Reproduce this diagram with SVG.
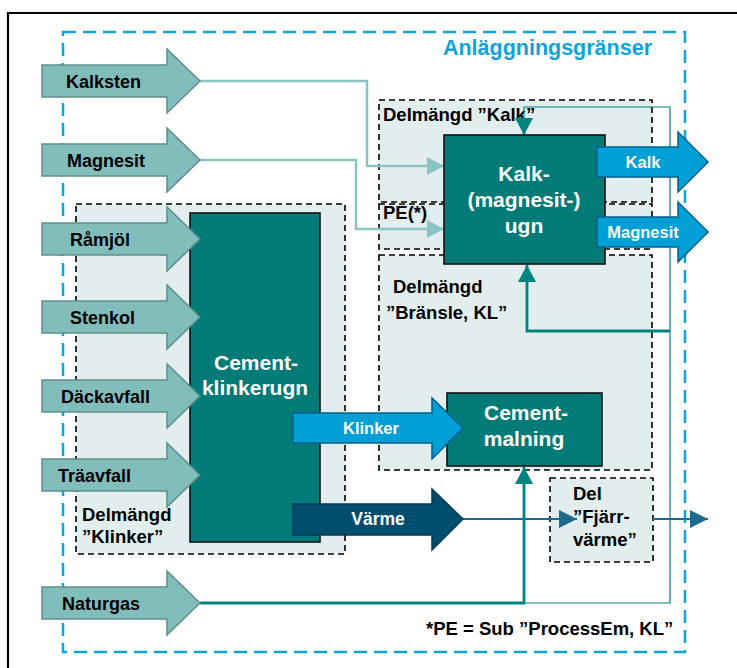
<svg xmlns="http://www.w3.org/2000/svg" width="737" height="668" viewBox="0 0 737 668">
  <style>
    .lbl { font-family: "Liberation Sans", Arial, sans-serif; font-weight: bold; }
    .blk { fill: #000; font-size: 18.5px; }
    .inl { fill: #000; font-size: 18px; }
    .wht { fill: #fff; }
    .sub { fill: #e2eeee; stroke: #000; stroke-width: 1.6; stroke-dasharray: 6 4; }
    .proc { fill: #007b78; stroke: #111; stroke-width: 1.6; }
    .inArrow { fill: #80bdbb; stroke: #5e8e8c; stroke-width: 1.5; }
    .outArrow { fill: #00a0d6; stroke: #00608c; stroke-width: 1.5; }
    .heatArrow { fill: #004e6e; stroke: #003a55; stroke-width: 1.5; }
    .feed { fill: none; stroke: #8cc4c3; stroke-width: 2.5; }
    .fuel { fill: none; stroke: #008480; stroke-width: 2.8; }
    .fuelThin { fill: none; stroke: #008480; stroke-width: 1.2; }
    .heat { fill: none; stroke: #1d6a8c; stroke-width: 2.2; }
  </style>
  <defs>
    <path id="inShape" d="M42,-16 H167 V-32 L200,0 L167,32 V16 H42 Z"/>
    <path id="outShape" d="M597,-15 H678 V-30 L708,0 L678,30 V15 H597 Z"/>
    <marker id="mFeed" markerUnits="userSpaceOnUse" markerWidth="18" markerHeight="20" refX="17" refY="9" orient="auto">
      <path d="M0,0 L17,9 L0,18 Z" fill="#8cc4c3"/>
    </marker>
    <marker id="mFuel" markerUnits="userSpaceOnUse" markerWidth="18" markerHeight="20" refX="17" refY="9" orient="auto">
      <path d="M0,0 L17,9 L0,18 Z" fill="#008480"/>
    </marker>
    <marker id="mHeat" markerUnits="userSpaceOnUse" markerWidth="20" markerHeight="20" refX="18" refY="9" orient="auto">
      <path d="M0,0 L18,9 L0,18 Z" fill="#1d6a8c"/>
    </marker>
  </defs>

  <!-- outer frame -->
  <path d="M8,668 V13 H737" fill="none" stroke="#000" stroke-width="2.2"/>

  <!-- plant boundary -->
  <g id="boundary">
    <rect x="63" y="32" width="622" height="620" fill="none" stroke="#10a3d9" stroke-width="2.5" stroke-dasharray="13 7"/>
    <text class="lbl" x="652" y="55" text-anchor="end" font-size="21.5" fill="#10a3d9">Anläggningsgränser</text>
  </g>

  <!-- sub-quantity regions -->
  <g id="sub-klinker">
    <rect class="sub" x="76" y="204" width="269" height="350"/>
    <text class="lbl blk" x="82" y="521">Delmängd</text>
    <text class="lbl blk" x="82" y="543">”Klinker”</text>
  </g>
  <g id="sub-kalk">
    <rect class="sub" x="379" y="100" width="273" height="102"/>
    <text class="lbl blk" x="383" y="121">Delmängd ”Kalk”</text>
  </g>
  <g id="sub-pe">
    <rect class="sub" x="379" y="204" width="273" height="45"/>
    <text class="lbl blk" x="383" y="219">PE(*)</text>
  </g>
  <g id="sub-bransle">
    <rect class="sub" x="379" y="255" width="273" height="215"/>
    <text class="lbl blk" x="393" y="293">Delmängd</text>
    <text class="lbl blk" x="386" y="319">”Bränsle, KL”</text>
  </g>
  <g id="sub-fjarrvarme">
    <rect class="sub" x="550" y="478" width="103" height="84"/>
    <text class="lbl blk" x="573" y="500">Del</text>
    <text class="lbl blk" x="573" y="523">”Fjärr-</text>
    <text class="lbl blk" x="573" y="546">värme”</text>
  </g>

  <!-- connectors -->
  <g id="connectors">
    <polyline class="feed" points="200,81 367,81 367,166 444,166" marker-end="url(#mFeed)"/>
    <polyline class="feed" points="200,160 356,160 356,229 444,229" marker-end="url(#mFeed)"/>
    <polyline class="fuelThin" points="524,603 670,603 670,107 524,107 524,122"/>
    <polyline class="fuel" points="200,603 524,603 524,467" marker-end="url(#mFuel)"/>
    <polyline class="fuel" points="524,118 524,135" marker-end="url(#mFuel)"/>
    <polyline class="fuel" points="670,331 527,331 527,265" marker-end="url(#mFuel)"/>
    <polyline class="heat" points="463,519 577,519" marker-end="url(#mHeat)"/>
    <polyline class="heat" points="653,519 708,519" marker-end="url(#mHeat)"/>
  </g>

  <!-- process units -->
  <g id="kalkugn">
    <rect class="proc" x="444" y="135" width="161" height="129"/>
    <text class="lbl wht" x="524" y="181" font-size="21" text-anchor="middle">Kalk-</text>
    <text class="lbl wht" x="524" y="207" font-size="21" text-anchor="middle">(magnesit-)</text>
    <text class="lbl wht" x="524" y="233" font-size="21" text-anchor="middle">ugn</text>
  </g>
  <g id="klinkerugn">
    <rect class="proc" x="190" y="213" width="130" height="329"/>
    <text class="lbl wht" x="256" y="370" font-size="21" text-anchor="middle">Cement-</text>
    <text class="lbl wht" x="255" y="395" font-size="21" text-anchor="middle">klinkerugn</text>
  </g>
  <g id="cementmalning">
    <rect class="proc" x="447" y="393" width="155" height="73"/>
    <text class="lbl wht" x="526" y="420" font-size="21" text-anchor="middle">Cement-</text>
    <text class="lbl wht" x="524" y="446" font-size="21" text-anchor="middle">malning</text>
  </g>

  <!-- input flows -->
  <g id="in-kalksten">
    <use href="#inShape" class="inArrow" y="81"/>
    <text class="lbl inl" x="66" y="88">Kalksten</text>
  </g>
  <g id="in-magnesit">
    <use href="#inShape" class="inArrow" y="160"/>
    <text class="lbl inl" x="67" y="167">Magnesit</text>
  </g>
  <g id="in-ramjol">
    <use href="#inShape" class="inArrow" y="239"/>
    <text class="lbl inl" x="70" y="246">Råmjöl</text>
  </g>
  <g id="in-stenkol">
    <use href="#inShape" class="inArrow" y="317"/>
    <text class="lbl inl" x="70" y="324">Stenkol</text>
  </g>
  <g id="in-dackavfall">
    <use href="#inShape" class="inArrow" y="396"/>
    <text class="lbl inl" x="61" y="403">Däckavfall</text>
  </g>
  <g id="in-traavfall">
    <use href="#inShape" class="inArrow" y="475"/>
    <text class="lbl inl" x="58" y="482">Träavfall</text>
  </g>
  <g id="in-naturgas">
    <use href="#inShape" class="inArrow" y="603"/>
    <text class="lbl inl" x="62" y="610">Naturgas</text>
  </g>

  <!-- product flows -->
  <g id="out-kalk">
    <use href="#outShape" class="outArrow" y="162"/>
    <text class="lbl wht" x="643" y="168" font-size="16.5" text-anchor="middle">Kalk</text>
  </g>
  <g id="out-magnesit">
    <use href="#outShape" class="outArrow" y="232"/>
    <text class="lbl wht" x="643" y="238" font-size="16.5" text-anchor="middle">Magnesit</text>
  </g>
  <g id="flow-klinker">
    <path class="outArrow" d="M293,413 H432 V398 L463,428 L432,459 V443 H293 Z"/>
    <text class="lbl wht" x="371" y="434" font-size="16.5" text-anchor="middle">Klinker</text>
  </g>
  <g id="flow-varme">
    <path class="heatArrow" d="M293,504 H432 V489 L463,519 L432,550 V535 H293 Z"/>
    <text class="lbl wht" x="378" y="525" font-size="17.5" text-anchor="middle">Värme</text>
  </g>

  <text class="lbl blk" x="426" y="635">*PE = Sub ”ProcessEm, KL”</text>
</svg>
